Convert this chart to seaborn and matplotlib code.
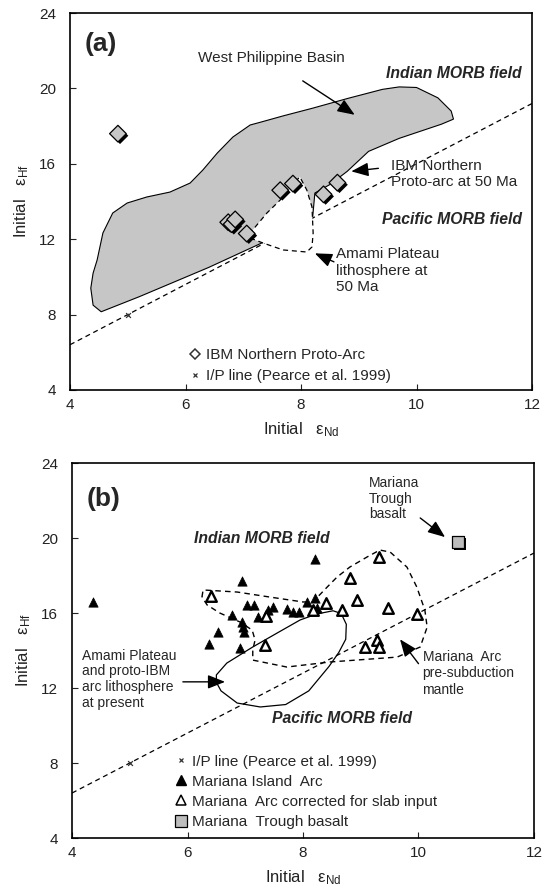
import matplotlib
matplotlib.use("Agg")
import matplotlib.pyplot as plt
import matplotlib.patheffects as pe
from matplotlib.lines import Line2D
from matplotlib.patches import Polygon
import seaborn as sns
import pandas as pd

# ---------------- data : panel (a) ----------------
a_nd = [4.83, 6.74, 6.80, 6.86, 7.06, 7.64, 7.86, 8.39, 8.63]
a_hf = [17.6, 12.9, 12.8, 13.05, 12.3, 14.6, 14.95, 14.38, 15.0]

ip_nd = [4, 12]
ip_hf = [6.4, 19.2]
ip_mark_nd = [5.0]
ip_mark_hf = [8.0]

wpb_nd = [4.54, 4.40, 4.36, 4.40, 4.47, 4.57, 4.74, 4.99, 5.33, 5.73, 6.08, 6.30, 6.55,
          6.82, 7.12, 7.29, 7.70, 8.20, 8.81, 9.41, 9.70, 10.00, 10.37, 10.60, 10.64,
          10.43, 9.70, 9.17, 8.80, 8.50, 8.24, 8.20, 7.30, 6.40, 5.20]
wpb_hf = [8.15, 8.50, 9.40, 10.20, 10.90, 12.33, 13.39, 13.92, 14.24, 14.50, 14.98, 15.67, 16.57,
          17.42, 18.06, 18.20, 18.55, 18.95, 19.47, 19.95, 20.08, 20.05, 19.50, 18.80, 18.37,
          18.10, 17.35, 16.66, 15.60, 14.90, 14.45, 13.10, 11.77, 10.50, 8.95]

amami_a_nd = [7.12, 7.34, 7.69, 8.10, 8.19, 8.21, 8.19, 8.10, 7.98, 7.81, 7.64, 7.41, 7.12]
amami_a_hf = [12.06, 11.80, 11.43, 11.32, 11.59, 12.33, 13.71, 14.61, 15.30, 14.77, 14.08, 13.39, 12.33]

# ---------------- data : panel (b) ----------------
island_nd = [4.36, 6.37, 6.53, 6.77, 6.94, 6.91, 6.94, 6.96, 6.98, 7.03, 7.15, 7.22, 7.39,
             7.48, 7.72, 7.83, 7.93, 8.07, 8.21, 8.24, 8.21]
island_hf = [16.6, 14.35, 15.0, 15.9, 17.7, 14.15, 15.52, 15.25, 14.99, 16.45, 16.45, 15.79, 16.16,
             16.3, 16.21, 16.05, 16.05, 16.59, 16.8, 16.27, 18.88]

corr_nd = [6.40, 7.36, 7.34, 8.17, 8.40, 8.68, 8.94, 8.81, 9.32, 9.47, 9.97, 9.07, 9.28, 9.32]
corr_hf = [16.9, 15.85, 14.29, 16.16, 16.53, 16.16, 16.69, 17.87, 18.99, 16.25, 15.95, 14.19, 14.56, 14.19]

trough_nd = [10.68]
trough_hf = [19.79]

presub_nd = [6.25, 6.27, 6.86, 7.43, 8.00, 8.17, 8.42, 8.59, 8.81, 9.11, 9.33, 9.51, 9.80, 9.97,
             10.11, 10.15, 10.03, 9.63, 8.47, 7.72, 7.13, 7.13, 7.17, 7.12, 6.91, 6.56, 6.34]
presub_hf = [16.85, 17.23, 17.12, 16.85, 16.59, 16.59, 17.39, 17.92, 18.45, 18.99, 19.36, 19.25, 18.45, 17.39,
             16.16, 15.25, 14.19, 13.65, 13.39, 13.12, 13.49, 14.03, 14.56, 15.09, 15.52, 16.00, 16.43]

amami_b_nd = [6.50, 6.68, 7.13, 7.55, 7.95, 8.24, 8.52, 8.66, 8.75, 8.74, 8.62, 8.45, 8.10, 7.70,
              7.26, 6.86, 6.58, 6.50]
amami_b_hf = [12.70, 13.33, 14.19, 14.93, 15.63, 15.95, 16.12, 15.98, 15.40, 14.60, 13.90, 13.15, 11.85, 11.12,
              10.99, 11.20, 11.85, 12.30]

x_ticks = [4, 6, 8, 10, 12]
y_ticks = [4, 8, 12, 16, 20, 24]

# ---------------- style ----------------
sns.set_style("ticks")
plt.rcParams['font.family'] = ['Liberation Sans', 'DejaVu Sans']
plt.rcParams['mathtext.fontset'] = 'custom'
plt.rcParams['mathtext.rm'] = 'Liberation Sans'
plt.rcParams['mathtext.it'] = 'Liberation Sans:italic'
plt.rcParams['mathtext.bf'] = 'Liberation Sans:bold'

GRAY = '#c6c6c6'
DASH = (0, (4, 3))
ANN_A = 11
ANN_B = 10
BI = 11.3
LEG = 11

fig = plt.figure(figsize=(5.46, 8.92), dpi=100)
ax_a = fig.add_axes([0.1282, 0.5628, 0.8462, 0.4226])
ax_b = fig.add_axes([0.1319, 0.0605, 0.8461, 0.4204])

shadow = [pe.SimplePatchShadow(offset=(1.5, -1.5), shadow_rgbFace='black', alpha=1.0), pe.Normal()]


def style_axes(ax):
    ax.set_xlim(4, 12)
    ax.set_ylim(4, 24)
    ax.set_xticks(x_ticks)
    ax.set_yticks(y_ticks)
    ax.tick_params(direction='in', length=4, width=0.8, labelsize=11, colors='#222222',
                   top=False, right=False)
    ax.tick_params(axis='x', pad=6)
    ax.tick_params(axis='y', pad=10)
    for s in ax.spines.values():
        s.set_visible(True)
        s.set_linewidth(1.2)
        s.set_color('black')
    ax.set_xlabel('Initial   ε$_{\\rm Nd}$', fontsize=12, color='#222222')
    ax.set_ylabel('Initial   ε$_{\\rm Hf}$', fontsize=12, color='#222222')
    ax.xaxis.set_label_coords(0.5, -0.08)
    ax.yaxis.set_label_coords(-0.085, 0.5)


def arrow(ax, tail, head):
    ax.annotate('', xy=head, xytext=tail,
                arrowprops=dict(arrowstyle='-|>,head_length=0.75,head_width=0.3', color='black',
                                lw=1.0, shrinkA=0, shrinkB=0, mutation_scale=14), zorder=6)


# ---------------- panel (a) ----------------
ax = ax_a
sns.lineplot(x=ip_nd, y=ip_hf, ax=ax, color='black', lw=0.9, linestyle=DASH, zorder=1)
ax.add_patch(Polygon(list(zip(wpb_nd, wpb_hf)), closed=True, facecolor=GRAY,
                     edgecolor='black', lw=0.8, zorder=2))
ax.add_patch(Polygon(list(zip(amami_a_nd, amami_a_hf)), closed=True, facecolor='white',
                     edgecolor='black', lw=0.9, linestyle=DASH, zorder=3))
sns.scatterplot(x=ip_mark_nd, y=ip_mark_hf, ax=ax, marker='x', s=12, color='#333333',
                linewidth=0.9, zorder=4)
sns.scatterplot(x=a_nd, y=a_hf, ax=ax, marker='D', s=72, color=GRAY, edgecolor='black',
                linewidth=0.9, zorder=5, path_effects=shadow)

ax.text(4.25, 22.35, '(a)', fontsize=19, fontweight='bold', va='center', ha='left')
ax.text(7.48, 21.6, 'West Philippine Basin', fontsize=ANN_A, ha='center', va='center')
arrow(ax, (8.03, 20.4), (8.93, 18.6))
ax.text(11.82, 20.8, 'Indian MORB field', fontsize=BI, fontweight='bold', fontstyle='italic',
        ha='right', va='center')
ax.text(9.56, 15.45, 'IBM Northern\nProto-arc at 50 Ma', fontsize=ANN_A, ha='left', va='center',
        linespacing=1.2)
arrow(ax, (9.34, 15.76), (8.87, 15.6))
ax.text(11.82, 13.04, 'Pacific MORB field', fontsize=BI, fontweight='bold', fontstyle='italic',
        ha='right', va='center')
ax.text(8.6, 10.33, 'Amami Plateau\nlithosphere at\n50 Ma', fontsize=ANN_A, ha='left', va='center',
        linespacing=1.2)
arrow(ax, (8.57, 10.8), (8.24, 11.25))

h_a = [Line2D([], [], marker='D', ls='none', mfc='white', mec='#333333', mew=1.1, ms=5.5),
       Line2D([], [], marker='x', ls='none', color='#333333', mew=0.9, ms=3.5)]
ax.legend(h_a, ['IBM Northern Proto-Arc', 'I/P line (Pearce et al. 1999)'],
          loc='upper left', bbox_to_anchor=(6.06, 6.22), bbox_transform=ax.transData,
          frameon=False, fontsize=LEG, handlelength=0.8, handletextpad=0.3,
          labelspacing=0.45, borderaxespad=0, borderpad=0)
style_axes(ax)

# ---------------- panel (b) ----------------
ax = ax_b
sns.lineplot(x=ip_nd, y=ip_hf, ax=ax, color='black', lw=0.9, linestyle=DASH, zorder=1)
sns.scatterplot(x=ip_mark_nd, y=ip_mark_hf, ax=ax, marker='x', s=12, color='#333333',
                linewidth=0.9, zorder=4)
ax.add_patch(Polygon(list(zip(presub_nd, presub_hf)), closed=True, fill=False,
                     edgecolor='black', lw=1.0, linestyle=DASH, zorder=2))
ax.add_patch(Polygon(list(zip(amami_b_nd, amami_b_hf)), closed=True, fill=False,
                     edgecolor='black', lw=0.9, zorder=2))
sns.scatterplot(x=island_nd, y=island_hf, ax=ax, marker='^', s=45, color='black',
                edgecolor='black', linewidth=0.5, zorder=5)
sns.scatterplot(x=corr_nd, y=corr_hf, ax=ax, marker='^', s=58, color='white',
                edgecolor='black', linewidth=1.7, zorder=5)
sns.scatterplot(x=trough_nd, y=trough_hf, ax=ax, marker='s', s=80, color='#bdbdbd',
                edgecolor='black', linewidth=0.9, zorder=5, path_effects=shadow)

ax.text(4.25, 22.1, '(b)', fontsize=19, fontweight='bold', va='center', ha='left')
ax.text(7.28, 20.0, 'Indian MORB field', fontsize=BI, fontweight='bold', fontstyle='italic',
        ha='center', va='center')
ax.text(9.14, 22.1, 'Mariana\nTrough\nbasalt', fontsize=ANN_B, ha='left', va='center',
        linespacing=1.15)
arrow(ax, (10.03, 21.07), (10.46, 20.05))
ax.text(10.07, 12.78, 'Mariana  Arc\npre-subduction\nmantle', fontsize=ANN_B, ha='left',
        va='center', linespacing=1.2)
arrow(ax, (10.0, 13.3), (9.68, 14.6))
ax.text(4.17, 12.48, 'Amami Plateau\nand proto-IBM\narc lithosphere\nat present', fontsize=ANN_B,
        ha='left', va='center', linespacing=1.15)
arrow(ax, (5.92, 12.33), (6.65, 12.33))
ax.text(8.68, 10.4, 'Pacific MORB field', fontsize=BI, fontweight='bold', fontstyle='italic',
        ha='center', va='center')

h_b = [Line2D([], [], marker='x', ls='none', color='#333333', mew=0.9, ms=3.5),
       Line2D([], [], marker='^', ls='none', mfc='black', mec='black', ms=6.5),
       Line2D([], [], marker='^', ls='none', mfc='white', mec='black', mew=1.1, ms=6.5),
       Line2D([], [], marker='s', ls='none', mfc='#bdbdbd', mec='black', mew=0.9, ms=8)]
ax.legend(h_b, ['I/P line (Pearce et al. 1999)', 'Mariana Island  Arc',
                'Mariana  Arc corrected for slab input', 'Mariana  Trough basalt'],
          loc='upper left', bbox_to_anchor=(5.78, 8.45), bbox_transform=ax.transData,
          frameon=False, fontsize=LEG, handlelength=0.8, handletextpad=0.3,
          labelspacing=0.4, borderaxespad=0, borderpad=0)
style_axes(ax)

fig.savefig('out.png', dpi=100)
